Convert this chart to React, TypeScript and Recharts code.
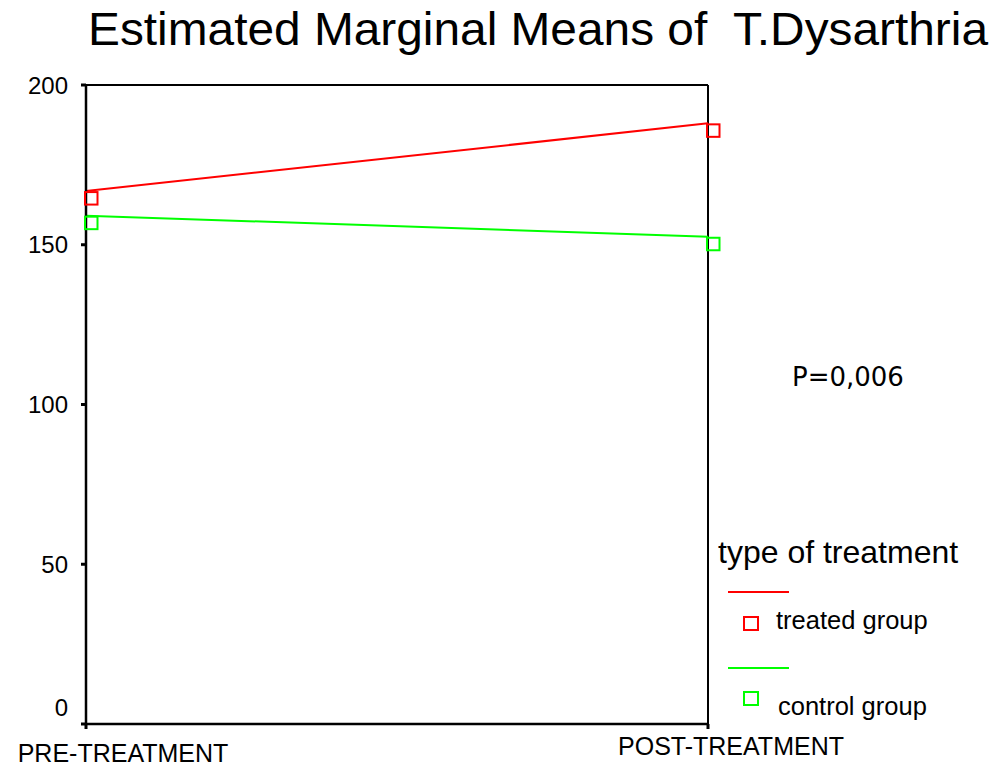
import { LineChart, Line, XAxis, YAxis, ReferenceLine, Legend } from 'recharts'

const phases = ['PRE-TREATMENT', 'POST-TREATMENT']
const treatedMeans = [166.8, 188.0]
const controlMeans = [159.1, 152.5]
const yTicks = [0, 50, 100, 150, 200]

const groups = [
  { key: 'treated', label: 'treated group', color: '#ff0000' },
  { key: 'control', label: 'control group', color: '#00ff00' },
]

const data = phases.map((phase, i) => ({
  phase,
  treated: treatedMeans[i],
  control: controlMeans[i],
}))

const FONT = '"Liberation Sans", Arial, sans-serif'

// SPSS anchors the square marker at its top-left corner
function SquareDot(props: any) {
  const { cx, cy, stroke } = props
  if (cx == null || cy == null) return null
  return <rect x={cx - 1} y={cy + 1} width={12.5} height={12.5} fill="none" stroke={stroke} strokeWidth={2} />
}

function YTick(props: any) {
  const { x, y, payload } = props
  const shift = payload.value === 0 ? -17 : 0
  return (
    <text x={x} y={y + shift} dy="0.355em" textAnchor="end" fontFamily={FONT} fontSize={24} fill="#000">
      {payload.value}
    </text>
  )
}

function XTick(props: any) {
  const { x, y, payload, index } = props
  const dx = index === 0 ? 37 : 23
  const dy = index === 0 ? 33 : 26
  return (
    <text x={x + dx} y={y + dy} textAnchor="middle" fontFamily={FONT} fontSize={25} fill="#000">
      {payload.value}
    </text>
  )
}

function TreatmentLegend() {
  return (
    <svg width={298} height={200} style={{ display: 'block' }}>
      <text x={18} y={33} fontFamily={FONT} fontSize={32} fill="#000">
        type of treatment
      </text>
      {groups.map((g, i) => {
        const top = i * 76
        return (
          <g key={g.key}>
            <line x1={28} x2={89} y1={62 + top} y2={62 + top} stroke={g.color} strokeWidth={2} />
            <rect x={44} y={87 + top + (i === 1 ? -1 : 0)} width={14} height={13} fill="none" stroke={g.color} strokeWidth={2} />
            <text x={76 + i * 2} y={99 + top + (i === 1 ? 10 : 0)} fontFamily={FONT} fontSize={25.5} fill="#000">
              {g.label}
            </text>
          </g>
        )
      })}
    </svg>
  )
}

export default function App() {
  return (
    <div style={{ position: 'absolute', left: 0, top: 0, width: 998, height: 768, background: '#fff' }}>
      <LineChart width={998} height={768} data={data} margin={{ top: 85, right: 290, bottom: 0, left: 0 }}>
        <XAxis
          dataKey="phase"
          height={44}
          tick={<XTick />}
          tickSize={5}
          tickMargin={0}
          axisLine={{ stroke: '#000', strokeWidth: 2.5 }}
          tickLine={{ stroke: '#000', strokeWidth: 3 }}
          interval={0}
        />
        <YAxis
          width={86}
          domain={[0, 200]}
          ticks={yTicks}
          tick={<YTick />}
          tickSize={5}
          tickMargin={13}
          axisLine={{ stroke: '#000', strokeWidth: 2.5 }}
          tickLine={{ stroke: '#000', strokeWidth: 3 }}
        />
        <ReferenceLine y={200} stroke="#000" strokeWidth={2} />
        <ReferenceLine x="POST-TREATMENT" stroke="#000" strokeWidth={2} />
        {groups.map((g) => (
          <Line
            key={g.key}
            dataKey={g.key}
            name={g.label}
            stroke={g.color}
            strokeWidth={2}
            dot={<SquareDot />}
            activeDot={false}
            isAnimationActive={false}
          />
        ))}
        <Legend
          layout="vertical"
          align="center"
          verticalAlign="middle"
          content={<TreatmentLegend />}
          wrapperStyle={{ left: 700, top: 530, width: 298, height: 200 }}
        />
      </LineChart>
      <svg width={998} height={768} style={{ position: 'absolute', left: 0, top: 0, pointerEvents: 'none' }}>
        <text
          x={88}
          y={45}
          fontFamily={FONT}
          fontSize={47}
          textLength={900}
          lengthAdjust="spacingAndGlyphs"
          fill="#000"
          style={{ whiteSpace: 'pre' }}
        >
          {'Estimated Marginal Means of  T.Dysarthria'}
        </text>
        <text x={792} y={386} fontFamily='"DejaVu Sans", sans-serif' fontSize={26} fill="#000">
          P=0,006
        </text>
      </svg>
    </div>
  )
}
